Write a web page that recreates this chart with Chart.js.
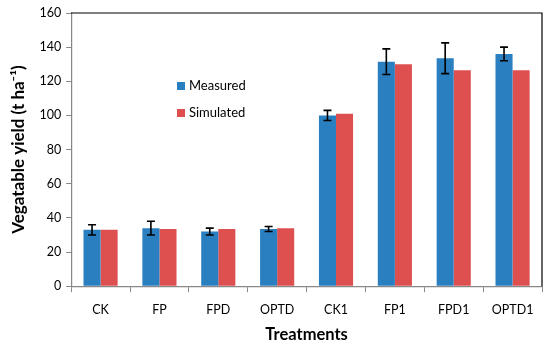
<!DOCTYPE html>
<html><head><meta charset="utf-8">
<script src="https://cdn.jsdelivr.net/npm/chart.js@4/dist/chart.umd.min.js"></script>
<style>html,body{margin:0;padding:0;background:#fff}#wrap{width:550px;height:349px}</style>
</head><body><div id="wrap"><canvas id="c" width="550" height="349"></canvas></div>
<script>
const categories = ["CK","FP","FPD","OPTD","CK1","FP1","FPD1","OPTD1"];
const measured = [33, 34, 32, 33.5, 100, 131.5, 133.5, 136];
const measuredErr = [3, 4, 2, 1.5, 3, 7.5, 9, 4];
const simulated = [33, 33.5, 33.5, 34, 101, 130, 126.5, 126.5];
const yTicks = [0,20,40,60,80,100,120,140,160];
const FONT = "Lato, 'Open Sans', sans-serif";

const errorBars = {
  id: 'errorBars',
  afterDatasetsDraw(chart) {
    const ctx = chart.ctx, y = chart.scales.y;
    const meta = chart.getDatasetMeta(0);
    ctx.save();
    ctx.strokeStyle = '#000'; ctx.lineWidth = 1.6;
    meta.data.forEach((bar, i) => {
      const v = measured[i], e = measuredErr[i];
      const x = bar.x, top = y.getPixelForValue(v + e), bot = y.getPixelForValue(v - e);
      ctx.beginPath();
      ctx.moveTo(x, top); ctx.lineTo(x, bot);
      ctx.moveTo(x - 4, top); ctx.lineTo(x + 4, top);
      ctx.moveTo(x - 4, bot); ctx.lineTo(x + 4, bot);
      ctx.stroke();
    });
    ctx.restore();
  }
};
const frame = {
  id: 'frame',
  afterDraw(chart) {
    const ctx = chart.ctx, a = chart.chartArea;
    ctx.save();
    ctx.strokeStyle = '#000'; ctx.lineWidth = 1.2;
    ctx.beginPath();
    ctx.moveTo(a.left, a.top); ctx.lineTo(a.right, a.top); ctx.lineTo(a.right, a.bottom);
    ctx.stroke();
    // legend
    ctx.font = "13px " + FONT;
    ctx.textBaseline = 'middle';
    chart.data.datasets.forEach((ds, i) => {
      const lx = 177, ly = 86 + i * 27;
      ctx.fillStyle = ds.backgroundColor;
      ctx.fillRect(lx, ly - 4, 8, 8);
      ctx.fillStyle = '#000';
      ctx.fillText(ds.label, lx + 12, ly);
    });
    ctx.restore();
  }
};

new Chart(document.getElementById('c'), {
  type: 'bar',
  data: {
    labels: categories,
    datasets: [
      { label: 'Measured', data: measured, backgroundColor: '#2a7fc0', categoryPercentage: 0.58, barPercentage: 1.0 },
      { label: 'Simulated', data: simulated, backgroundColor: '#de4f4f', categoryPercentage: 0.58, barPercentage: 1.0 }
    ]
  },
  options: {
    responsive: false, animation: false,
    layout: { padding: { top: 13, right: 8, left: 4, bottom: 4 } },
    plugins: { legend: { display: false }, tooltip: { enabled: false } },
    scales: {
      x: {
        grid: { offset: true, drawOnChartArea: false, drawTicks: true, tickLength: 6, color: '#888' },
        border: { color: '#888', width: 1.2 },
        ticks: { color: '#000', font: { family: FONT, size: 12.5 }, padding: 10 },
        title: { display: true, text: 'Treatments', color: '#000', font: { family: FONT, size: 16.5, weight: 'bold' }, padding: { top: -2, bottom: 0 } }
      },
      y: {
        min: 0, max: 160,
        afterBuildTicks(scale) { scale.ticks = yTicks.map(v => ({ value: v })); },
        grid: { drawOnChartArea: false, drawTicks: true, tickLength: 5, color: '#888' },
        border: { color: '#888', width: 1.2 },
        ticks: { color: '#000', font: { family: FONT, size: 12.5 }, padding: 5 },
        title: { display: true, text: 'Vegatable yield (t ha\u207B\u00B9)', color: '#000', font: { family: FONT, size: 17, weight: 'bold' }, padding: { bottom: 6 } }
      }
    }
  },
  plugins: [errorBars, frame]
});
</script></body></html>
